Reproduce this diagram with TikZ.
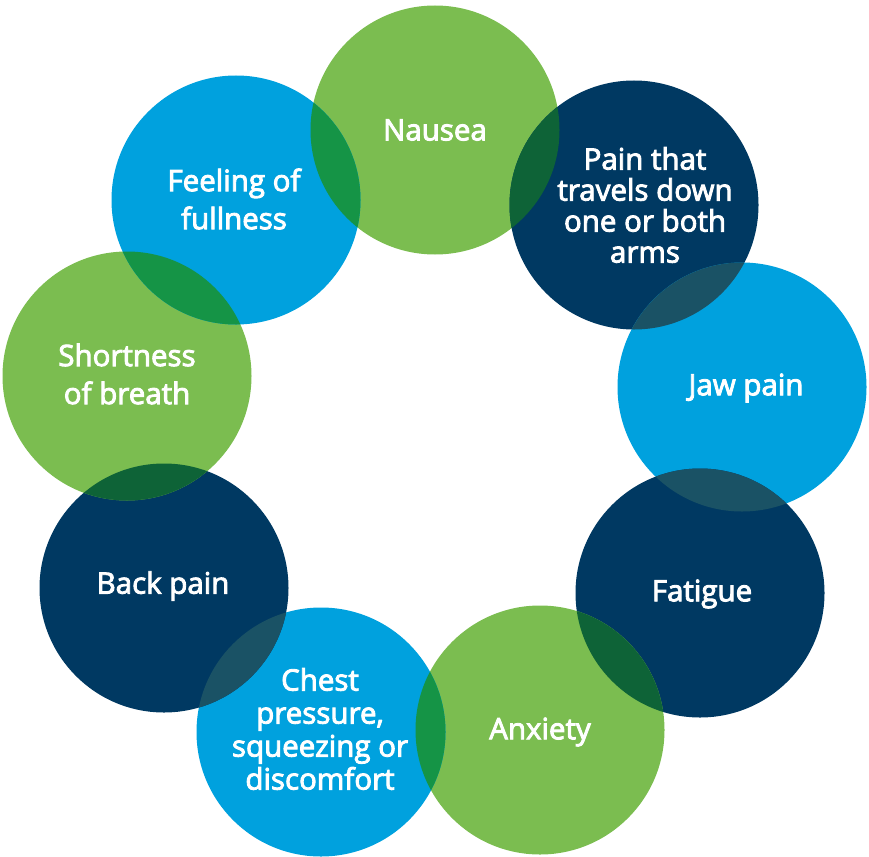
\documentclass[tikz,border=0pt]{standalone}
\usepackage{fontspec}
\setmainfont{Open Sans}
\newfontfamily\labfont{Open Sans}[FakeBold=3]
\definecolor{cgreen}{HTML}{7BBD50}
\definecolor{cblue}{HTML}{00A1DE}
\definecolor{cnavy}{HTML}{003962}
\definecolor{lgb}{HTML}{159446}
\definecolor{lgn}{HTML}{0E6337}
\definecolor{lbn}{HTML}{1A5265}
\tikzset{
  lab/.style={text=white, align=center, font=\labfont\fontsize{29.5}{31}\selectfont, inner sep=0pt},
}
\newcommand{\disc}[2]{\fill[#2] (#1) circle (124.5pt);}
\newcommand{\lens}[3]{\begin{scope}\clip (#1) circle (124.5pt); \fill[#3] (#2) circle (124.5pt);\end{scope}}
\begin{document}
\begin{tikzpicture}[x=1pt,y=-1pt]
\useasboundingbox (0,0) rectangle (869,856);
\coordinate (cN) at (435,130);
\coordinate (cP) at (634,205);
\coordinate (cJ) at (742,387);
\coordinate (cF) at (700,593);
\coordinate (cA) at (540,730);
\coordinate (cC) at (321,732);
\coordinate (cB) at (164,588);
\coordinate (cS) at (127,376);
\coordinate (cU) at (236,200);
\disc{cN}{cgreen}
\disc{cP}{cnavy}
\disc{cJ}{cblue}
\disc{cF}{cnavy}
\disc{cA}{cgreen}
\disc{cC}{cblue}
\disc{cB}{cnavy}
\disc{cS}{cgreen}
\disc{cU}{cblue}
\lens{cN}{cP}{lgn}
\lens{cP}{cJ}{lbn}
\lens{cJ}{cF}{lbn}
\lens{cF}{cA}{lgn}
\lens{cA}{cC}{lgb}
\lens{cC}{cB}{lbn}
\lens{cB}{cS}{lgn}
\lens{cS}{cU}{lgb}
\lens{cU}{cN}{lgb}
\node[lab] (tN) at (435,130) {Nausea};
\node[lab] (tP) at (645,205) {Pain that\\travels down\\one or both\\arms};
\node[lab] (tJ) at (746,388) {Jaw pain};
\node[lab] (tF) at (702,594) {Fatigue};
\node[lab] (tA) at (540,732) {Anxiety};
\node[lab, font=\labfont\fontsize{29.5}{33}\selectfont] (tC) at (320,729) {Chest\\pressure,\\squeezing or\\discomfort};
\node[lab] (tB) at (163,586) {Back pain};
\node[lab, font=\labfont\fontsize{29.5}{38}\selectfont] (tS) at (127,374) {Shortness\\of breath};
\node[lab, font=\labfont\fontsize{29.5}{38}\selectfont] (tU) at (234,199) {Feeling of\\fullness};
\end{tikzpicture}
\end{document}
